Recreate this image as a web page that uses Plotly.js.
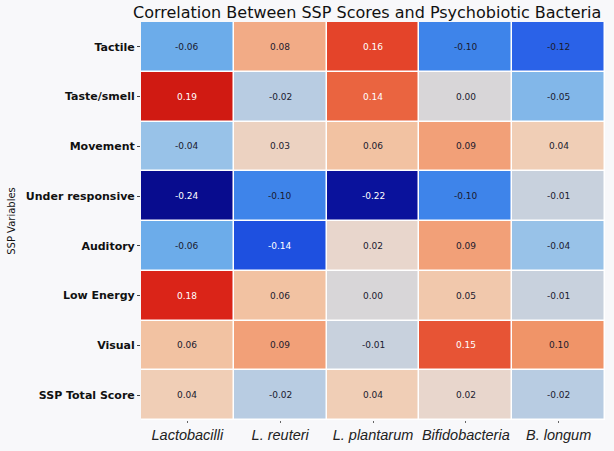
<!DOCTYPE html>
<html>
<head>
<meta charset="utf-8">
<script src="https://cdn.plot.ly/plotly-3.0.1.min.js"></script>
<style>html,body{margin:0;padding:0;background:#f8f8fa;}#chart{width:614px;height:451px;}</style>
</head>
<body>
<div id="chart"></div>
<script>
const rows = ["Tactile", "Taste/smell", "Movement", "Under responsive", "Auditory", "Low Energy", "Visual", "SSP Total Score"];
const cols = ["Lactobacilli", "L. reuteri", "L. plantarum", "Bifidobacteria", "B. longum"];
const tactile = [-0.06, 0.08, 0.16, -0.10, -0.12];
const tasteSmell = [0.19, -0.02, 0.14, 0.00, -0.05];
const movement = [-0.04, 0.03, 0.06, 0.09, 0.04];
const underResponsive = [-0.24, -0.10, -0.22, -0.10, -0.01];
const auditory = [-0.06, -0.14, 0.02, 0.09, -0.04];
const lowEnergy = [0.18, 0.06, 0.00, 0.05, -0.01];
const visual = [0.06, 0.09, -0.01, 0.15, 0.10];
const sspTotal = [0.04, -0.02, 0.04, 0.02, -0.02];

const z = [tactile, tasteSmell, movement, underResponsive, auditory, lowEnergy, visual, sspTotal];

const colorscale = [
  [0.000, "#080c8e"],
  [0.042, "#0a129c"],
  [0.208, "#1e50e0"],
  [0.250, "#2a62e8"],
  [0.292, "#3e84ea"],
  [0.375, "#6cacea"],
  [0.417, "#98c2e8"],
  [0.458, "#b8cce2"],
  [0.500, "#d8d6d8"],
  [0.542, "#e8d6cc"],
  [0.583, "#f0ceb6"],
  [0.625, "#f2c2a2"],
  [0.6875, "#f2a078"],
  [0.708, "#f09468"],
  [0.792, "#ea6440"],
  [0.833, "#e4442a"],
  [0.875, "#da2418"],
  [0.896, "#d01a12"],
  [1.000, "#b00a0a"]
];

const annotations = [];
z.forEach((row, i) => {
  row.forEach((v, j) => {
    annotations.push({
      x: cols[j], y: rows[i], xref: "x", yref: "y",
      text: v.toFixed(2), showarrow: false,
      font: {family: "DejaVu Sans", size: 9, color: Math.abs(v) >= 0.14 ? "#ffffff" : "#1a1a2e"}
    });
  });
});

const trace = {
  type: "heatmap",
  z: z, x: cols, y: rows,
  colorscale: colorscale, zmin: -0.24, zmax: 0.24,
  showscale: false, xgap: 1.5, ygap: 1.5, hoverinfo: "none"
};

const layout = {
  width: 614, height: 451,
  margin: {l: 141, r: 9, t: 22, b: 31},
  paper_bgcolor: "#f8f8fa",
  plot_bgcolor: "#ffffff",
  title: {text: "Correlation Between SSP Scores and Psychobiotic Bacteria",
          font: {family: "DejaVu Sans", size: 16, color: "#111"},
          x: 0.598, xanchor: "center", y: 0.973, yanchor: "middle"},
  xaxis: {type: "category", showgrid: false, zeroline: false, ticks: "outside", ticklen: 2, tickcolor: "#666",
          tickfont: {family: "Liberation Sans", size: 14.5, color: "#222", style: "italic"}, showline: false},
  yaxis: {type: "category", autorange: "reversed", showgrid: false, zeroline: false, ticks: "outside", ticklen: 3, tickcolor: "#444",
          tickfont: {family: "DejaVu Sans", size: 11, color: "#111", weight: "bold"},
          title: {text: "SSP Variables", font: {family: "DejaVu Sans", size: 10, color: "#111"}, standoff: 8}},
  annotations: annotations
};

Plotly.newPlot("chart", [trace], layout, {displayModeBar: false, staticPlot: true});
</script>
</body>
</html>
